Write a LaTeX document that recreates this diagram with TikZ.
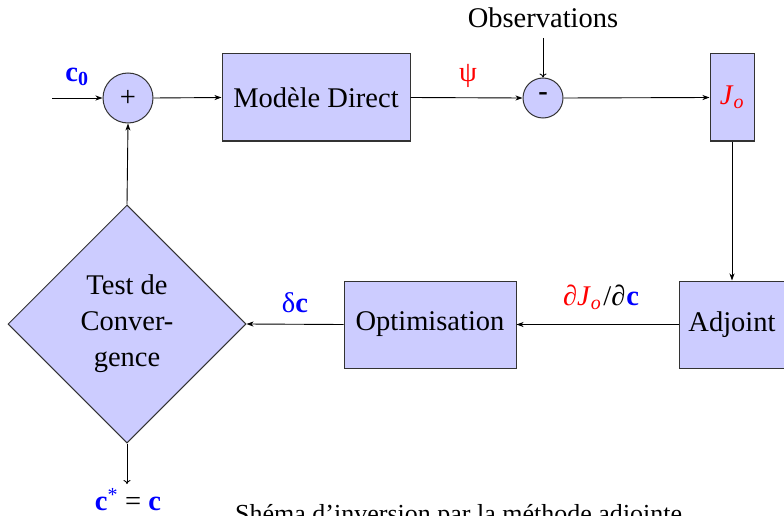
\documentclass[tikz,border=0pt]{standalone}
\usepackage{fontspec}
\setmainfont{Liberation Serif}
\usetikzlibrary{shapes.geometric,arrows.meta}
\begin{document}
\begin{tikzpicture}[x=1pt,y=-1pt,
  every node/.style={font=\fontsize{28.5}{36}\selectfont},
  blk/.style={draw=black!80,line width=1pt,fill=blue!20,inner sep=0pt},
  sumc/.style={draw=black!80,line width=1pt,fill=blue!20,circle,inner sep=0pt},
  fl/.style={line width=0.9pt,-{Stealth[length=7pt,width=5pt,inset=2pt]}},
  op/.style={line width=0.9pt,-{To[length=4pt,width=7pt]}},
  lbl/.style={inner sep=0pt}]
\useasboundingbox (0,0) rectangle (784,516);
% nodes
\node[sumc,minimum size=50pt] (plus) at (128,98) {+};
\node[blk,minimum width=188pt,minimum height=87pt] (md) at (316,97.5) {Modèle Direct};
\node[sumc,minimum size=40pt] (minus) at (543,98) {\raisebox{3pt}{\textbf{-}}};
\node[blk,minimum width=44pt,minimum height=87pt] (jo) at (732,97.5) {\textcolor{red}{\textit{J}\textsubscript{\textit{o}}}};
\node[blk,minimum width=106pt,minimum height=87pt] (adj) at (732,324.5) {Adjoint};
\node[blk,minimum width=172pt,minimum height=87pt] (opt) at (430,324.5) {Optimisation};
\node[blk,diamond,aspect=1,minimum width=238pt,minimum height=238pt,align=center] (diam) at (127,324) {Test de\\Conver-\\gence};
\node[lbl] (obs) at (543,18) {Observations};
\coordinate (obsend) at (543,38);
\coordinate (cin) at (52,98);
\coordinate (cout) at (127,484);
% labels
\node[lbl] (c0) at (77,77) {\textcolor{blue}{\textbf{c\textsubscript{0}}}};
\node[lbl] (psi) at (468,76) {\textcolor{red}{ψ}};
\node[lbl] (grad) at (601,297) {\textcolor{red}{∂\textit{J}\textsubscript{\textit{o}}}\kern2pt/∂\kern1pt\textcolor{blue}{\textbf{c}}};
\node[lbl] (dc) at (295,303) {\textcolor{blue}{δ\textbf{c}}};
\node[lbl] (cs) at (128,500) {\textcolor{blue}{\textbf{c}\textsuperscript{*}} = \textcolor{blue}{\textbf{c}}};
\node[lbl,anchor=base west,font=\fontsize{26}{30}\selectfont] (cap) at (235,522) {Shéma d’inversion par la méthode adjointe};
% connectors
\draw[fl] (cin) -- (plus.west);
\draw[fl] (plus.east) -- (md.west);
\draw[fl] (md.east) -- (minus.west);
\draw[op] (obsend) -- (minus.north);
\draw[fl] (minus.east) -- (jo.west);
\draw[fl] (jo.south) -- (adj.north);
\draw[fl] (adj.west) -- (opt.east);
\draw[fl] (opt.west) -- (diam.east);
\draw[fl] (diam.north) -- (plus.south);
\draw[op] (diam.south) -- (cout);
\end{tikzpicture}
\end{document}
